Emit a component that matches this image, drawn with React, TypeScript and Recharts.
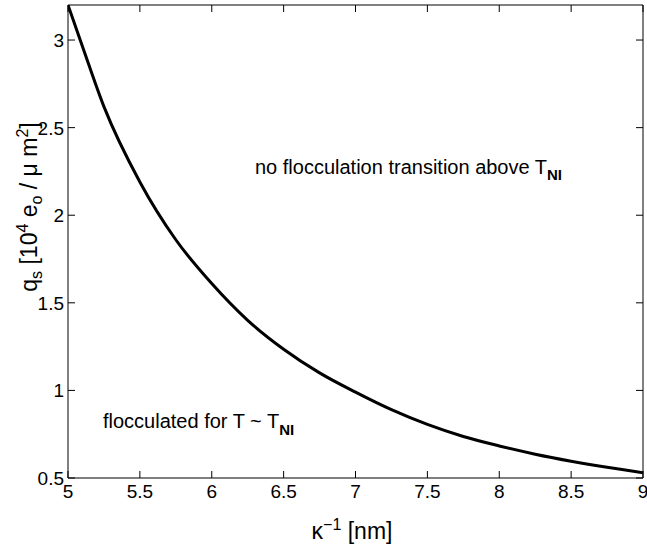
import { LineChart, Line, XAxis, YAxis, Label, ReferenceArea } from 'recharts';

// inverse screening length kappa^-1 [nm]
const kappaInv = [5, 5.1, 5.25, 5.5, 5.75, 6, 6.25, 6.5, 6.75, 7, 7.25, 7.5, 7.75, 8, 8.25, 8.5, 8.75, 9];
// surface charge q_s [10^4 e0 / um^2] on the boundary curve
const surfaceCharge = [3.2, 2.965, 2.62, 2.19, 1.86, 1.61, 1.4, 1.235, 1.1, 0.99, 0.89, 0.806, 0.737, 0.683, 0.636, 0.596, 0.561, 0.53];

const xTicks = [5, 5.5, 6, 6.5, 7, 7.5, 8, 8.5, 9];
const yTicks = [0.5, 1, 1.5, 2, 2.5, 3];

const FONT = '"Liberation Sans", Arial, Helvetica, sans-serif';
const W = 647;
const H = 546;
// plot box (matlab style frame, ticks pointing inwards)
const BOX = { left: 68, right: 643, top: 5, bottom: 478 };
const TICK = 7;

const data = kappaInv.map((k, i) => ({ k, qs: surfaceCharge[i] }));

function BottomTick(props: any) {
  const { x, payload } = props;
  return (
    <g>
      <line x1={x} x2={x} y1={BOX.bottom} y2={BOX.bottom - TICK} stroke="#000" />
      <line x1={x} x2={x} y1={BOX.top} y2={BOX.top + TICK} stroke="#000" />
      <text x={x} y={498} textAnchor="middle" fontFamily={FONT} fontSize={19} fill="#000">
        {payload.value}
      </text>
    </g>
  );
}

function LeftTick(props: any) {
  const { y, payload } = props;
  return (
    <g>
      <line x1={BOX.left} x2={BOX.left + TICK} y1={y} y2={y} stroke="#000" />
      <line x1={BOX.right} x2={BOX.right - TICK} y1={y} y2={y} stroke="#000" />
      <text x={64} y={y + 7} textAnchor="end" fontFamily={FONT} fontSize={19} fill="#000">
        {payload.value}
      </text>
    </g>
  );
}

function XTitle() {
  return (
    <text x={352} y={539} textAnchor="middle" fontFamily={FONT} fontSize={23} fill="#000">
      κ
      <tspan dy={-9} fontSize={16}>−1</tspan>
      <tspan dy={9}> [nm]</tspan>
    </text>
  );
}

function YTitle() {
  return (
    <text transform="translate(37,207) rotate(-90)" textAnchor="middle" fontFamily={FONT} fontSize={23} fill="#000">
      q<tspan dy={5} fontSize={16}>s</tspan>
      <tspan dy={-5}> [10</tspan>
      <tspan dy={-9} fontSize={16}>4</tspan>
      <tspan dy={9}> e</tspan>
      <tspan dy={5} fontSize={16}>o</tspan>
      <tspan dy={-5}> / μ m</tspan>
      <tspan dy={-9} fontSize={16}>2</tspan>
      <tspan dy={9}>]</tspan>
    </text>
  );
}

export default function App() {
  return (
    <div style={{ position: 'fixed', left: 0, top: 0, width: W, height: H, background: '#fff' }}>
      <LineChart width={W} height={H} data={data} margin={{ top: 5, right: 4, bottom: 0, left: 0 }}>
        <XAxis
          dataKey="k"
          type="number"
          domain={[5, 9]}
          ticks={xTicks}
          interval={0}
          height={68}
          axisLine={false}
          tickLine={false}
          tick={<BottomTick />}
          allowDataOverflow
        >
          <Label content={<XTitle />} />
        </XAxis>
        <YAxis
          type="number"
          domain={[0.5, 3.2]}
          ticks={yTicks}
          interval={0}
          width={68}
          axisLine={false}
          tickLine={false}
          tick={<LeftTick />}
          allowDataOverflow
        >
          <Label content={<YTitle />} />
        </YAxis>
        <ReferenceArea x1={5} x2={9} y1={0.5} y2={3.2} stroke="#000" strokeWidth={1} fill="none" ifOverflow="visible" />
        <Line
          type="monotone"
          dataKey="qs"
          stroke="#000"
          strokeWidth={3}
          dot={false}
          isAnimationActive={false}
        />
      </LineChart>
      <svg width={W} height={H} style={{ position: 'absolute', left: 0, top: 0, pointerEvents: 'none' }}>
        <text x={255} y={174} fontFamily={FONT} fontSize={20} fill="#000">
          no flocculation transition above T
          <tspan dy={6} fontSize={15} fontWeight="bold">NI</tspan>
        </text>
        <text x={103} y={428} fontFamily={FONT} fontSize={20} fill="#000">
          flocculated for T ~ T
          <tspan dy={7} fontSize={15} fontWeight="bold">NI</tspan>
        </text>
      </svg>
    </div>
  );
}
